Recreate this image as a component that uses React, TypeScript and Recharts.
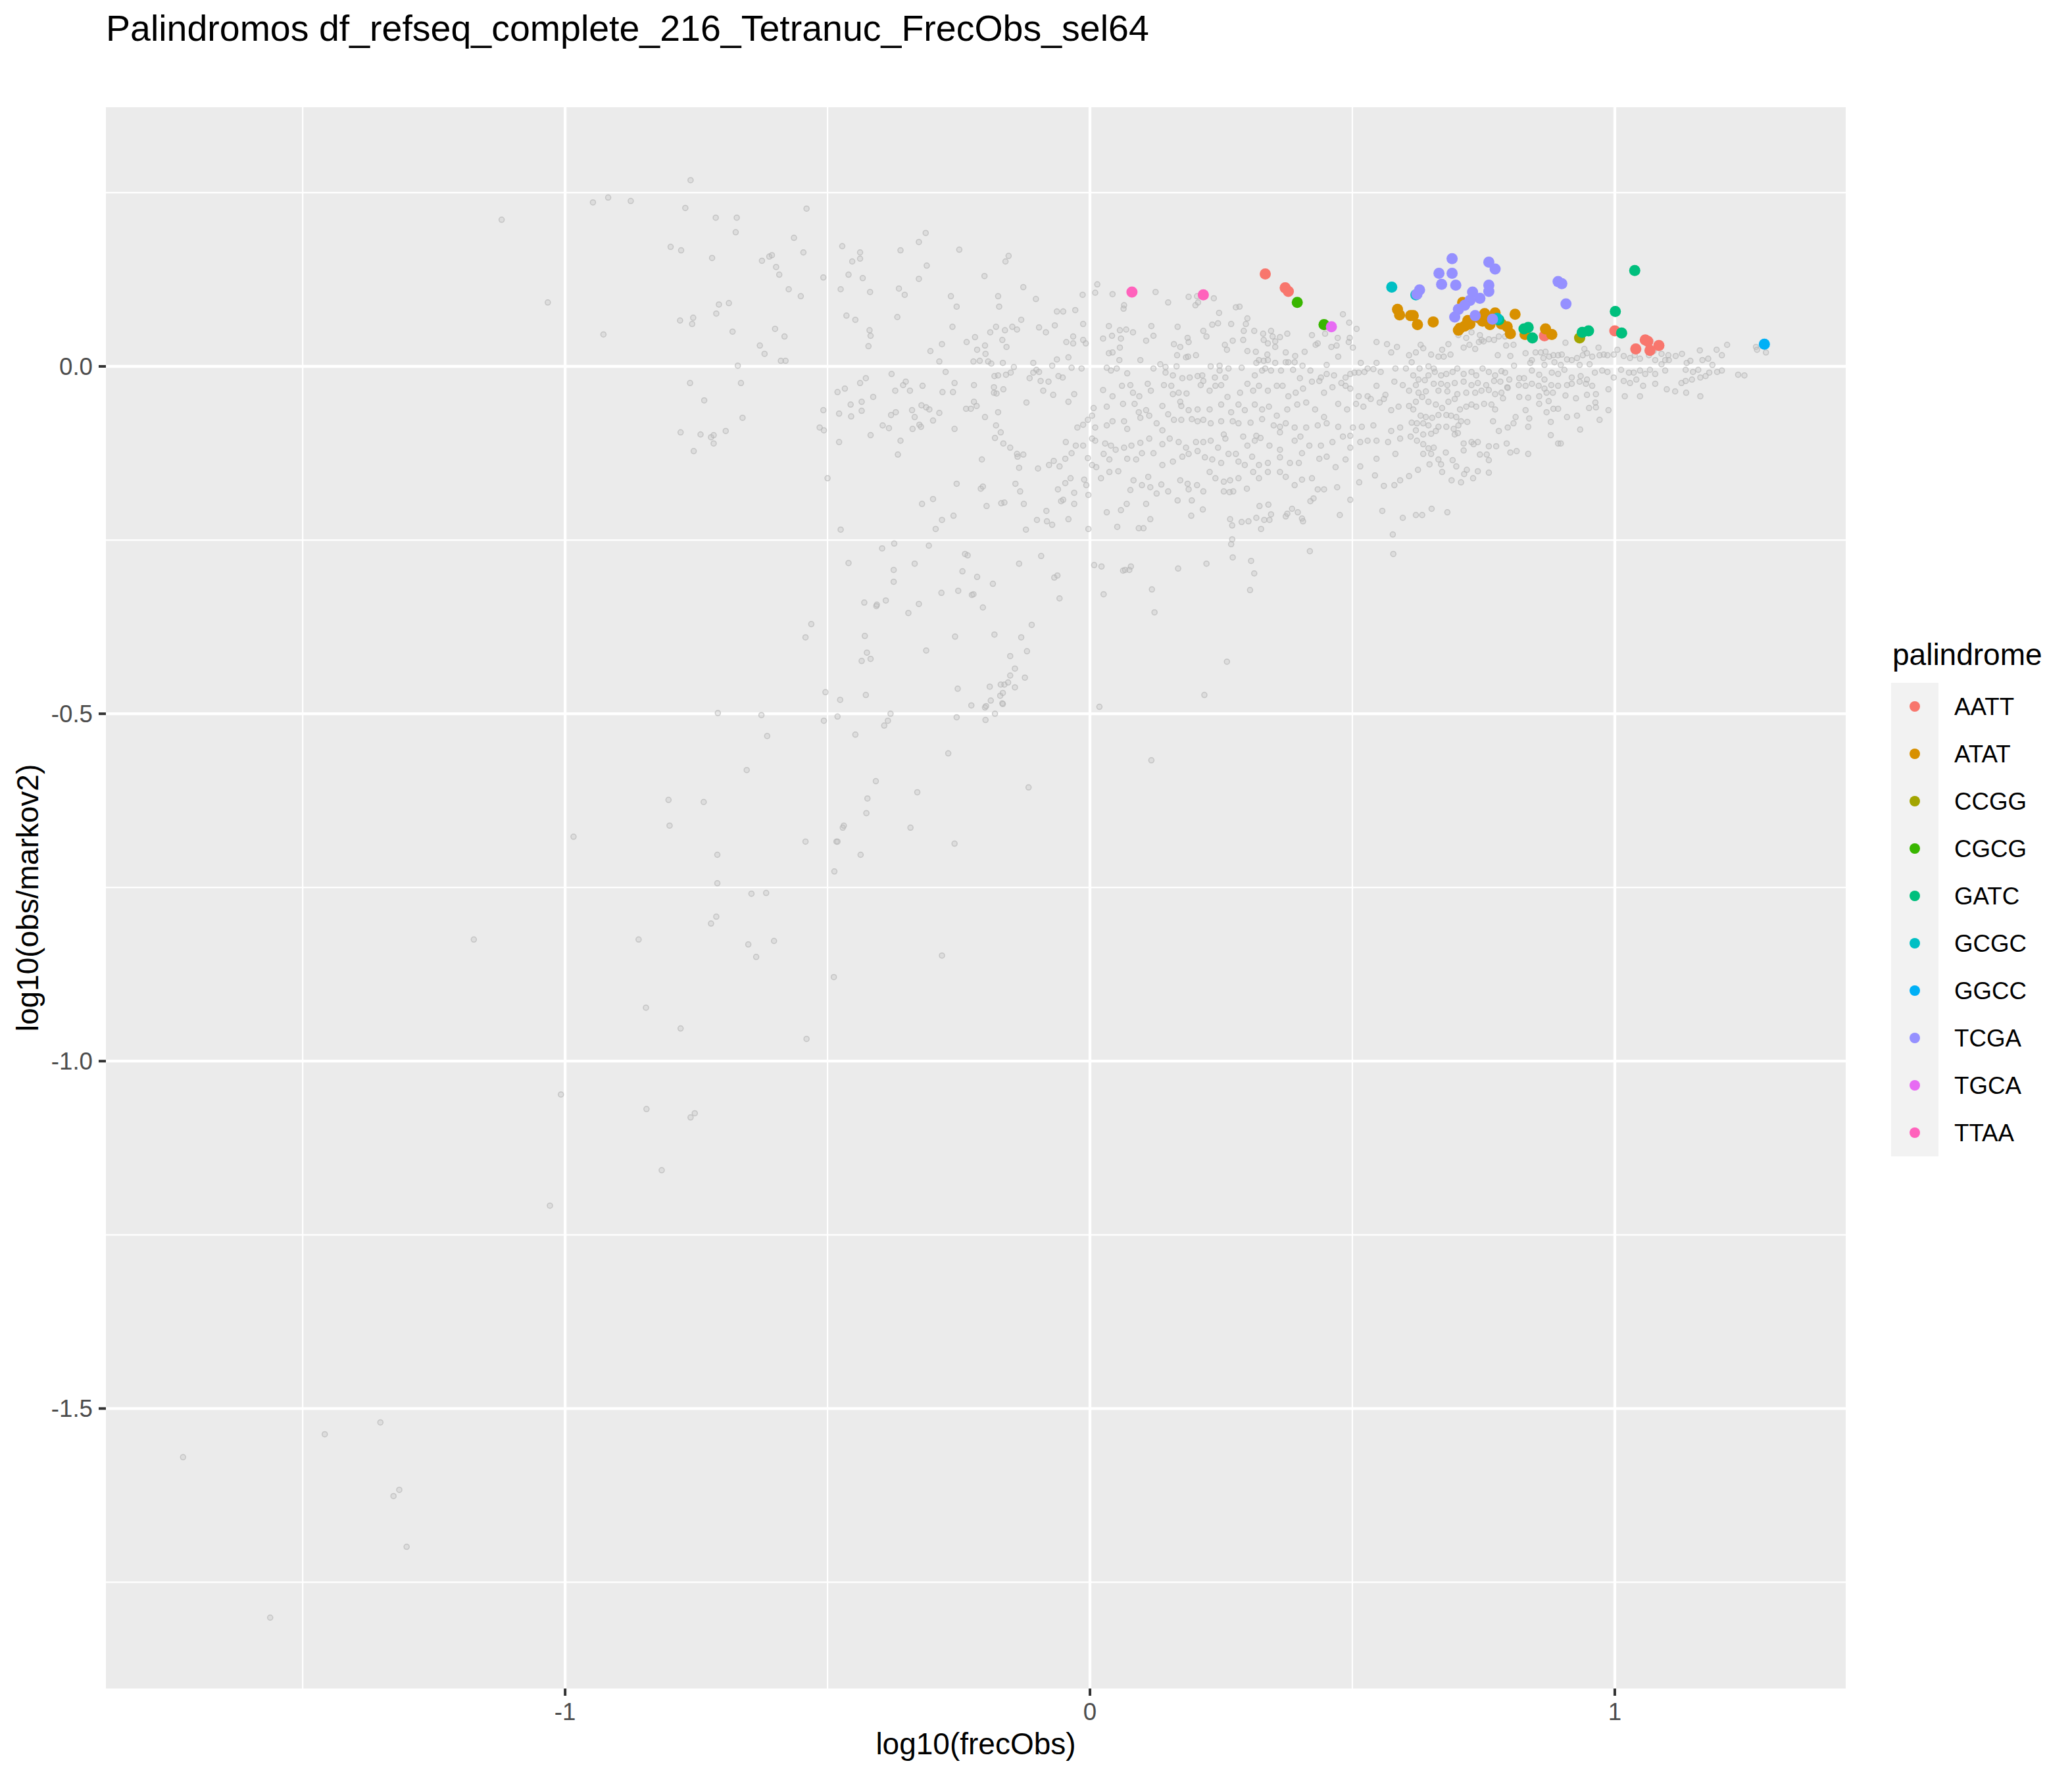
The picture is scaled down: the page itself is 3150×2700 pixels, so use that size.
import { ScatterChart, Scatter, XAxis, YAxis, CartesianGrid, Label } from 'recharts';

const FONT = '"Liberation Sans", Arial, sans-serif';

const X_TICKS = [-1, 0, 1];
const Y_TICKS = [-1.5, -1, -0.5, 0];
const X_MINOR = [-1.5, -0.5, 0.5];
const Y_MINOR = [0.25, -0.25, -0.75, -1.25, -1.75];
const X_DOMAIN = [-1.875, 1.44];
const Y_DOMAIN = [-1.903, 0.373];

// gray background points: all tetranucleotides (log10 frecObs, log10 obs/markov2)
const GRAY_CORE: [number, number][] = [
  [-0.103, 0.097], [-0.063, 0.079], [-0.051, 0.079], [-0.028, 0.081], [-0.013, 0.061], [-0.097, 0.056], [-0.084, 0.049],
  [-0.067, 0.059], [-0.045, 0.035], [-0.032, 0.043], [-0.032, 0.033], [-0.013, 0.038], [-0.008, 0.033], [-0.063, 0.01],
  [-0.041, 0.013], [-0.108, 0.005], [-0.072, 0.001], [0.065, 0.088], [0.064, 0.083], [0.036, 0.058], [0.057, 0.052],
  [0.069, 0.053], [0.082, 0.049], [0.042, 0.044], [0.025, 0.04], [0.059, 0.04], [0.107, 0.037], [0.121, 0.044],
  [0.117, 0.058], [0.149, 0.092], [0.167, 0.057], [0.188, 0.1], [0.201, 0.088], [0.206, 0.092], [0.216, 0.051],
  [0.222, 0.043], [0.233, 0.06], [0.244, 0.062], [0.246, 0.077], [0.269, 0.061], [0.278, 0.085], [0.285, 0.086],
  [0.3, 0.069], [0.297, 0.061], [0.293, 0.051], [0.313, 0.051], [0.33, 0.047], [0.345, 0.051], [0.331, 0.038],
  [0.348, 0.043], [0.362, 0.042], [0.353, 0.036], [0.376, 0.047], [0.16, 0.032], [0.172, 0.028], [0.186, 0.041],
  [0.188, 0.035], [0.204, 0.101], [0.236, 0.098], [0.257, 0.031], [0.261, 0.024], [0.272, 0.037], [0.292, 0.038],
  [0.339, 0.033], [0.353, 0.028], [0.3, 0.022], [0.316, 0.021], [0.338, 0.017], [0.373, 0.02], [0.391, 0.015],
  [0.409, 0.021], [0.43, 0.031], [0.434, 0.033], [0.423, 0.045], [0.448, 0.047], [0.472, 0.041], [0.47, 0.03],
  [0.495, 0.041], [0.493, 0.035], [0.501, 0.027], [0.508, 0.054], [0.482, 0.075], [0.494, 0.063], [0.46, 0.028],
  [0.473, 0.014], [0.057, 0.027], [0.036, 0.019], [0.043, 0.02], [0.056, 0.009], [0.096, 0.009], [0.134, 0.003],
  [0.166, 0.016], [0.183, 0.013], [0.187, 0.014], [0.202, 0.016], [0.23, 0.0], [0.247, 0.001], [0.317, 0.005],
  [0.322, 0.009], [0.331, 0.008], [0.339, 0.009], [0.353, 0.005], [0.373, 0.006], [0.378, 0.006], [0.39, 0.006],
  [0.405, 0.001], [0.451, 0.002], [0.516, 0.005], [0.529, -0.003], [0.546, 0.005], [0.566, 0.032], [0.546, 0.035],
  [0.574, 0.02], [0.585, 0.028], [0.608, 0.016], [0.613, 0.006],
  [-0.102, -0.005], [-0.097, -0.008], [-0.108, -0.009], [-0.06, -0.014], [-0.052, -0.016], [-0.035, -0.002],
  [-0.016, -0.003], [0.032, -0.002], [0.04, -0.006], [0.051, -0.003], [0.071, -0.01], [0.121, -0.003], [0.144, -0.001],
  [0.144, -0.009], [0.165, 0.0], [0.158, -0.013], [0.176, -0.017], [0.19, -0.016], [0.205, -0.014], [0.214, -0.013],
  [0.216, -0.021], [0.238, -0.016], [0.247, -0.006], [0.258, -0.016], [0.264, -0.003], [0.289, -0.002], [0.314, -0.013],
  [0.328, -0.006], [0.334, -0.003], [0.345, -0.006], [0.364, -0.006], [0.387, -0.005], [0.4, -0.017], [0.42, -0.006],
  [0.44, -0.016], [0.451, -0.011], [0.465, -0.013], [0.487, -0.016], [0.496, -0.011], [0.504, -0.009], [0.512, -0.009],
  [0.523, -0.008], [0.54, -0.004], [0.554, -0.008], [0.582, -0.003], [0.602, -0.003],
  [-0.115, -0.017], [-0.094, -0.021], [-0.079, -0.022], [-0.089, -0.035], [-0.07, -0.041], [-0.03, -0.04],
  [-0.041, -0.051], [0.025, -0.034], [0.043, -0.043], [0.061, -0.028], [0.077, -0.027], [0.082, -0.038], [0.094, -0.043],
  [0.11, -0.025], [0.116, -0.035], [0.141, -0.027], [0.155, -0.028], [0.158, -0.04], [0.169, -0.038], [0.184, -0.039],
  [0.211, -0.027], [0.228, -0.035], [0.239, -0.028], [0.25, -0.027], [0.262, -0.044], [0.286, -0.038], [0.3, -0.025],
  [0.311, -0.035], [0.322, -0.028], [0.339, -0.035], [0.356, -0.028], [0.367, -0.028], [0.378, -0.043], [0.392, -0.038],
  [0.406, -0.032], [0.423, -0.022], [0.437, -0.021], [0.446, -0.038], [0.462, -0.03], [0.479, -0.024], [0.487, -0.028],
  [0.496, -0.032], [0.512, -0.043], [0.529, -0.043], [0.546, -0.028], [0.563, -0.041], [0.58, -0.022], [0.596, -0.027],
  [0.608, -0.035],
  [-0.121, -0.052], [0.007, -0.06], [0.032, -0.058], [0.063, -0.054], [0.085, -0.054], [0.093, -0.066], [0.107, -0.063],
  [0.138, -0.057], [0.149, -0.069], [0.172, -0.051], [0.174, -0.057], [0.188, -0.063], [0.205, -0.062], [0.228, -0.062],
  [0.25, -0.055], [0.269, -0.066], [0.283, -0.055], [0.295, -0.063], [0.314, -0.055], [0.328, -0.062], [0.341, -0.058],
  [0.356, -0.071], [0.376, -0.062], [0.395, -0.055], [0.412, -0.052], [0.429, -0.062], [0.446, -0.073], [0.473, -0.054],
  [0.49, -0.062], [0.507, -0.054], [0.521, -0.058], [0.535, -0.047], [0.552, -0.052], [0.56, -0.047], [0.574, -0.063],
  [0.588, -0.058], [0.608, -0.057],
  [-0.024, -0.088], [-0.013, -0.084], [-0.004, -0.077], [0.004, -0.071], [0.01, -0.088], [0.032, -0.085], [0.043, -0.079],
  [0.065, -0.079], [0.071, -0.09], [0.096, -0.074], [0.113, -0.071], [0.127, -0.082], [0.138, -0.092], [0.16, -0.077],
  [0.174, -0.077], [0.194, -0.076], [0.205, -0.079], [0.216, -0.077], [0.23, -0.082], [0.25, -0.079], [0.272, -0.079],
  [0.283, -0.082], [0.306, -0.081], [0.328, -0.076], [0.35, -0.085], [0.362, -0.087], [0.373, -0.082], [0.39, -0.088],
  [0.412, -0.088], [0.434, -0.085], [0.451, -0.082], [0.473, -0.087], [0.501, -0.088], [0.518, -0.087], [0.54, -0.085],
  [0.574, -0.093], [0.591, -0.088], [0.613, -0.081], [0.255, -0.098], [0.317, -0.1], [0.362, -0.095], [0.496, -0.1],
  [-0.046, -0.109], [-0.027, -0.114], [-0.013, -0.114], [0.004, -0.104], [0.01, -0.107], [0.029, -0.111], [0.04, -0.114],
  [0.049, -0.12], [0.065, -0.117], [0.079, -0.114], [0.096, -0.11], [0.113, -0.104], [0.138, -0.112], [0.152, -0.104],
  [0.169, -0.109], [0.183, -0.117], [0.202, -0.109], [0.216, -0.109], [0.23, -0.107], [0.244, -0.117], [0.258, -0.104],
  [0.278, -0.126], [0.292, -0.101], [0.3, -0.114], [0.314, -0.107], [0.325, -0.103], [0.342, -0.114], [0.362, -0.12],
  [0.39, -0.107], [0.401, -0.101], [0.418, -0.114], [0.44, -0.114], [0.462, -0.109], [0.482, -0.101], [0.496, -0.117],
  [0.515, -0.109], [0.529, -0.107], [0.546, -0.107], [0.568, -0.109], [0.591, -0.104], [0.611, -0.101],
  [-0.099, -0.147], [-0.078, -0.142], [-0.069, -0.136], [-0.058, -0.144], [-0.047, -0.133], [-0.035, -0.125],
  [-0.004, -0.132], [0.004, -0.142], [0.012, -0.145], [0.026, -0.126], [0.037, -0.134], [0.071, -0.133], [0.088, -0.134],
  [0.099, -0.125], [0.121, -0.125], [0.138, -0.142], [0.158, -0.137], [0.176, -0.13], [0.188, -0.126], [0.205, -0.122],
  [0.219, -0.131], [0.233, -0.134], [0.25, -0.139], [0.264, -0.126], [0.283, -0.137], [0.295, -0.142], [0.309, -0.13],
  [0.322, -0.142], [0.339, -0.139], [0.362, -0.131], [0.381, -0.139], [0.398, -0.139], [0.404, -0.125], [0.437, -0.133],
  [0.451, -0.13], [0.468, -0.145], [0.487, -0.134], [0.515, -0.144], [0.546, -0.133], [0.582, -0.126],
  [-0.061, -0.177], [-0.047, -0.168], [-0.037, -0.161], [-0.03, -0.182], [-0.011, -0.163], [-0.007, -0.171],
  [-0.003, -0.185], [0.021, -0.161], [0.037, -0.152], [0.054, -0.151], [0.077, -0.178], [0.083, -0.164], [0.099, -0.171],
  [0.111, -0.159], [0.115, -0.174], [0.127, -0.183], [0.136, -0.17], [0.149, -0.18], [0.172, -0.164], [0.186, -0.169],
  [0.188, -0.177], [0.204, -0.171], [0.216, -0.18], [0.228, -0.152], [0.239, -0.161], [0.255, -0.166], [0.267, -0.164],
  [0.283, -0.161], [0.299, -0.176], [0.311, -0.152], [0.322, -0.161], [0.339, -0.152], [0.362, -0.152], [0.373, -0.159],
  [0.39, -0.171], [0.404, -0.163], [0.423, -0.161], [0.434, -0.177], [0.446, -0.177], [0.471, -0.174], [0.513, -0.167],
  [0.543, -0.157], [0.56, -0.172], [0.58, -0.171], [0.591, -0.164], [0.608, -0.158],
  [-0.101, -0.221], [-0.083, -0.208], [-0.082, -0.223], [-0.072, -0.228], [-0.055, -0.194], [-0.051, -0.192],
  [-0.041, -0.22], [-0.03, -0.198], [-0.003, -0.234], [0.032, -0.21], [0.052, -0.231], [0.059, -0.207], [0.07, -0.198],
  [0.093, -0.233], [0.102, -0.233], [0.107, -0.198], [0.115, -0.22], [0.167, -0.193], [0.194, -0.193], [0.193, -0.215],
  [0.215, -0.206], [0.255, -0.18], [0.266, -0.181], [0.273, -0.18], [0.267, -0.22], [0.271, -0.229], [0.289, -0.224],
  [0.302, -0.223], [0.317, -0.218], [0.326, -0.234], [0.332, -0.221], [0.342, -0.221], [0.34, -0.199], [0.323, -0.201],
  [0.345, -0.213], [0.373, -0.216], [0.376, -0.212], [0.385, -0.205], [0.396, -0.21], [0.404, -0.219], [0.406, -0.223],
  [0.42, -0.194], [0.426, -0.19], [0.476, -0.214], [0.496, -0.192], [0.557, -0.208], [0.577, -0.242], [0.596, -0.218],
  [-0.093, -0.273], [0.271, -0.249], [0.269, -0.256], [0.272, -0.275], [0.419, -0.266], [0.578, -0.27],
];

const GRAY_RIGHT: [number, number][] = [
  [0.702, 0.045], [0.717, 0.041], [0.727, 0.049], [0.743, 0.045], [0.746, 0.038], [0.76, 0.039], [0.77, 0.038],
  [0.779, 0.043], [0.791, 0.043], [0.63, 0.031], [0.635, 0.026], [0.621, 0.02], [0.65, 0.017], [0.671, 0.024],
  [0.683, 0.032], [0.687, 0.017], [0.664, 0.014], [0.674, 0.014], [0.712, 0.027], [0.723, 0.031], [0.734, 0.025],
  [0.741, 0.035], [0.75, 0.036], [0.777, 0.016], [0.793, 0.03], [0.807, 0.031], [0.801, 0.015], [0.83, 0.019],
  [0.842, 0.009], [0.849, 0.02], [0.859, 0.02], [0.864, 0.012], [0.868, 0.021], [0.875, 0.014], [0.883, 0.016],
  [0.892, 0.016], [0.899, 0.017], [0.906, 0.034], [0.909, 0.01], [0.918, 0.009], [0.928, 0.012], [0.942, 0.025],
  [0.939, 0.016], [0.947, 0.019], [0.957, 0.014], [0.969, 0.027], [0.971, 0.016], [0.979, 0.017], [0.986, 0.016],
  [0.998, 0.017], [1.005, 0.024], [1.017, 0.015], [1.029, 0.012], [1.038, 0.016], [1.048, 0.011], [1.065, 0.016],
  [1.077, 0.009], [1.089, 0.018], [1.089, 0.003], [1.102, 0.016], [1.116, 0.015], [1.128, 0.018], [1.103, 0.009],
  [1.096, 0.009], [1.137, 0.005], [1.144, 0.008], [1.167, 0.009], [1.178, 0.011], [1.186, 0.002], [1.162, 0.023],
  [1.194, 0.024], [1.204, 0.016], [1.214, 0.031], [1.269, 0.028], [1.271, 0.024], [1.288, 0.02], [1.074, 0.022],
  [0.952, 0.003], [0.933, 0.002], [0.897, 0.002], [0.866, 0.002], [0.839, 0.005], [0.885, 0.006], [0.628, -0.003],
  [0.645, 0.0], [0.655, -0.003],
  [0.616, -0.013], [0.626, -0.019], [0.645, -0.013], [0.657, -0.008], [0.669, -0.013], [0.679, -0.011], [0.691, -0.008],
  [0.7, -0.003], [0.712, -0.011], [0.727, -0.008], [0.736, -0.013], [0.748, -0.003], [0.76, -0.008], [0.772, -0.013],
  [0.784, -0.007], [0.791, -0.009], [0.799, -0.019], [0.808, 0.001], [0.818, -0.017], [0.827, -0.017], [0.842, -0.006],
  [0.856, -0.012], [0.866, -0.019], [0.88, -0.009], [0.892, -0.011], [0.904, -0.005], [0.918, -0.016], [0.935, -0.014],
  [0.947, -0.019], [0.962, -0.009], [0.976, -0.006], [0.986, -0.008], [0.998, -0.016], [1.012, -0.005], [1.027, -0.009],
  [1.036, -0.009], [1.048, -0.006], [1.058, -0.011], [1.067, -0.005], [1.077, -0.011], [1.096, -0.006], [1.135, -0.005],
  [1.149, -0.008], [1.159, -0.005], [1.18, -0.009], [1.195, -0.008], [1.204, -0.006], [1.235, -0.012], [1.247, -0.013],
  [0.621, -0.027], [0.638, -0.02], [0.655, -0.025], [0.669, -0.025], [0.681, -0.027], [0.695, -0.024], [0.712, -0.022],
  [0.727, -0.027], [0.739, -0.024], [0.755, -0.027], [0.77, -0.021], [0.782, -0.022], [0.795, -0.03], [0.817, -0.027],
  [0.83, -0.028], [0.842, -0.025], [0.855, -0.028], [0.866, -0.032], [0.879, -0.027], [0.892, -0.028], [0.909, -0.027],
  [0.918, -0.025], [0.933, -0.022], [0.945, -0.025], [0.957, -0.028], [1.017, -0.021], [1.029, -0.024], [1.041, -0.019],
  [1.054, -0.028], [1.077, -0.025], [1.127, -0.024], [1.135, -0.021], [1.147, -0.019], [1.163, -0.016], [1.173, -0.014],
  [0.626, -0.038], [0.64, -0.036], [0.664, -0.035], [0.681, -0.036], [0.7, -0.04], [0.717, -0.038], [0.734, -0.038],
  [0.746, -0.035], [0.76, -0.034], [0.772, -0.04], [0.784, -0.038], [0.796, -0.031], [0.818, -0.044], [0.835, -0.045],
  [0.856, -0.043], [0.87, -0.038], [0.882, -0.038], [0.906, -0.042], [0.926, -0.046], [0.947, -0.041], [0.964, -0.04],
  [0.988, -0.033], [1.019, -0.043], [1.048, -0.043], [1.099, -0.033], [1.115, -0.036], [1.136, -0.038], [1.163, -0.043],
  [0.621, -0.051], [0.633, -0.044], [0.645, -0.051], [0.659, -0.055], [0.671, -0.06], [0.683, -0.051], [0.695, -0.047],
  [0.705, -0.062], [0.717, -0.058], [0.727, -0.055], [0.736, -0.058], [0.751, -0.054], [0.765, -0.055], [0.772, -0.062],
  [0.787, -0.046], [0.83, -0.063], [0.856, -0.054], [0.874, -0.05], [0.883, -0.061], [0.892, -0.061], [0.87, -0.066],
  [0.811, -0.073], [0.837, -0.075], [0.909, -0.073], [0.928, -0.071], [0.951, -0.06], [0.964, -0.059], [0.963, -0.052],
  [0.988, -0.063], [0.971, -0.077], [0.616, -0.062], [0.63, -0.071], [0.64, -0.073], [0.652, -0.074], [0.664, -0.07],
  [0.679, -0.07], [0.688, -0.071], [0.698, -0.073], [0.707, -0.079], [0.719, -0.08], [0.623, -0.082], [0.635, -0.082],
  [0.645, -0.085], [0.664, -0.087], [0.679, -0.087], [0.693, -0.09], [0.702, -0.085], [0.621, -0.092], [0.635, -0.098],
  [0.65, -0.097], [0.659, -0.093], [0.695, -0.098], [0.701, -0.096], [0.768, -0.079], [0.779, -0.093], [0.796, -0.088],
  [0.807, -0.082], [0.835, -0.087], [0.878, -0.08], [0.878, -0.099], [0.934, -0.091],
  [0.623, -0.107], [0.635, -0.112], [0.645, -0.118], [0.655, -0.117], [0.712, -0.111], [0.727, -0.109], [0.731, -0.112],
  [0.739, -0.109], [0.76, -0.115], [0.774, -0.115], [0.794, -0.111], [0.801, -0.124], [0.813, -0.122], [0.835, -0.126],
  [0.892, -0.111], [0.897, -0.111], [0.635, -0.126], [0.65, -0.126], [0.664, -0.134], [0.678, -0.124], [0.669, -0.141],
  [0.691, -0.135], [0.712, -0.121], [0.743, -0.127], [0.756, -0.127], [0.76, -0.135], [0.647, -0.141], [0.625, -0.149],
  [0.671, -0.152], [0.698, -0.144], [0.718, -0.149], [0.739, -0.151], [0.76, -0.153], [0.713, -0.155], [0.73, -0.161],
  [0.689, -0.164], [0.707, -0.167], [0.651, -0.205], [0.681, -0.21], [0.621, -0.214], [0.633, -0.214],
];

const GRAY_LEFT: [number, number][] = [
  [-0.761, 0.268], [-0.947, 0.236], [-0.918, 0.243], [-0.875, 0.238], [-0.771, 0.228], [-0.713, 0.214], [-0.673, 0.214],
  [-0.675, 0.193], [-0.54, 0.227], [-0.564, 0.185], [-0.799, 0.172], [-0.779, 0.167], [-0.72, 0.156], [-1.121, 0.211],
  [-0.625, 0.152], [-0.611, 0.158], [-0.606, 0.16], [-0.598, 0.143], [-0.592, 0.132], [-0.546, 0.164], [-0.574, 0.111],
  [-0.551, 0.101], [-0.508, 0.128], [-1.033, 0.092], [-0.707, 0.089], [-0.688, 0.091], [-0.712, 0.076], [-0.781, 0.066],
  [-0.756, 0.07], [-0.758, 0.061], [-0.681, 0.05], [-0.927, 0.046], [-0.6, 0.054], [-0.582, 0.043], [-0.629, 0.03],
  [-0.62, 0.018], [-0.589, 0.008], [-0.58, 0.008], [-0.671, 0.001],
  [-0.472, 0.173], [-0.438, 0.164], [-0.438, 0.155], [-0.453, 0.151], [-0.46, 0.132], [-0.433, 0.127], [-0.475, 0.111],
  [-0.419, 0.107], [-0.361, 0.167], [-0.326, 0.179], [-0.313, 0.192], [-0.311, 0.145], [-0.326, 0.126], [-0.364, 0.112],
  [-0.353, 0.103], [-0.249, 0.168], [-0.265, 0.101], [-0.254, 0.086], [-0.201, 0.13], [-0.175, 0.101], [-0.173, 0.086],
  [-0.155, 0.159], [-0.161, 0.151], [-0.127, 0.114], [-0.464, 0.073], [-0.447, 0.067], [-0.42, 0.052], [-0.418, 0.044],
  [-0.422, 0.029], [-0.367, 0.071], [-0.262, 0.057], [-0.282, 0.032], [-0.304, 0.022], [-0.287, 0.007], [-0.235, 0.035],
  [-0.219, 0.042], [-0.215, 0.024], [-0.2, 0.03], [-0.199, 0.018], [-0.19, 0.049], [-0.179, 0.057], [-0.162, 0.052],
  [-0.167, 0.038], [-0.159, 0.028], [-0.148, 0.057], [-0.139, 0.053], [-0.131, 0.067], [-0.222, 0.007], [-0.21, 0.008],
  [-0.194, 0.007], [-0.188, 0.004], [-0.166, 0.005], [-0.145, -0.001],
  [-0.014, 0.103], [0.014, 0.118], [0.01, 0.106], [0.043, 0.104], [0.125, 0.107],
  [-0.762, -0.024], [-0.665, -0.024], [-0.735, -0.049], [-0.662, -0.074], [-0.78, -0.095], [-0.742, -0.098],
  [-0.722, -0.102], [-0.717, -0.099], [-0.717, -0.111], [-0.694, -0.093], [-0.755, -0.122], [-0.508, -0.063],
  [-0.515, -0.088], [-0.507, -0.092], [-0.478, -0.068], [-0.478, -0.109], [-0.5, -0.161], [-0.481, -0.037],
  [-0.467, -0.032], [-0.438, -0.024], [-0.427, -0.017], [-0.413, -0.044], [-0.435, -0.051], [-0.456, -0.055],
  [-0.435, -0.064], [-0.455, -0.072], [-0.378, -0.011], [-0.371, -0.035], [-0.356, -0.027], [-0.351, -0.022],
  [-0.343, -0.035], [-0.319, -0.028], [-0.321, -0.056], [-0.312, -0.059], [-0.306, -0.062], [-0.379, -0.07],
  [-0.37, -0.066], [-0.339, -0.063], [-0.334, -0.073], [-0.383, -0.089], [-0.395, -0.085], [-0.325, -0.084],
  [-0.322, -0.087], [-0.338, -0.09], [-0.299, -0.078], [-0.287, -0.067], [-0.418, -0.099], [-0.361, -0.107],
  [-0.366, -0.127], [-0.281, -0.037], [-0.261, -0.037], [-0.258, -0.024], [-0.275, -0.008], [-0.221, -0.027],
  [-0.236, -0.061], [-0.227, -0.061], [-0.221, -0.051], [-0.216, -0.057], [-0.2, -0.073], [-0.183, -0.03],
  [-0.183, -0.038], [-0.178, -0.039], [-0.165, -0.033], [-0.182, -0.014], [-0.175, -0.013], [-0.16, -0.012],
  [-0.151, -0.009], [-0.258, -0.09], [-0.179, -0.085], [-0.175, -0.066], [-0.17, -0.095], [-0.181, -0.103],
  [-0.165, -0.111], [-0.152, -0.117], [-0.206, -0.134], [-0.139, -0.126], [-0.138, -0.13], [-0.127, -0.127],
  [-0.135, -0.146], [-0.254, -0.169], [-0.208, -0.176], [-0.204, -0.173], [-0.142, -0.169], [-0.133, -0.18],
  [-0.32, -0.198], [-0.299, -0.191], [-0.282, -0.221], [-0.26, -0.215], [-0.294, -0.234], [-0.197, -0.201],
  [-0.169, -0.197], [-0.163, -0.196], [-0.126, -0.198], [-0.122, -0.235], [-0.475, -0.235],
];

const GRAY_LOW: [number, number][] = [
  [-0.396, -0.262], [-0.373, -0.255], [-0.307, -0.258], [-0.46, -0.283], [-0.334, -0.284], [-0.374, -0.293],
  [-0.374, -0.31], [-0.238, -0.27], [-0.233, -0.272], [-0.243, -0.295], [-0.215, -0.303], [-0.185, -0.313],
  [-0.135, -0.284], [-0.283, -0.326], [-0.251, -0.323], [-0.225, -0.329], [-0.222, -0.328], [-0.43, -0.34],
  [-0.407, -0.345], [-0.406, -0.343], [-0.389, -0.337], [-0.326, -0.342], [-0.346, -0.355], [-0.204, -0.347],
  [-0.531, -0.371], [-0.542, -0.39], [-0.429, -0.388], [-0.257, -0.389], [-0.182, -0.386], [-0.131, -0.39],
  [-0.312, -0.409], [-0.425, -0.412], [-0.435, -0.424], [-0.418, -0.421], [-0.152, -0.417], [-0.143, -0.435],
  [-0.152, -0.445], [-0.124, -0.448], [-0.252, -0.464], [-0.191, -0.461], [-0.17, -0.458], [-0.163, -0.458],
  [-0.156, -0.455], [-0.143, -0.462], [-0.504, -0.469], [-0.476, -0.48], [-0.427, -0.473], [-0.171, -0.474],
  [-0.166, -0.47], [-0.189, -0.481], [-0.167, -0.485], [-0.226, -0.488], [-0.2, -0.491], [-0.198, -0.489],
  [-0.709, -0.499], [-0.626, -0.502], [-0.615, -0.532], [-0.507, -0.51], [-0.481, -0.504], [-0.447, -0.53],
  [-0.392, -0.517], [-0.385, -0.51], [-0.38, -0.5], [-0.254, -0.505], [-0.199, -0.509], [-0.181, -0.5], [-0.166, -0.486],
  [-0.27, -0.557], [-0.654, -0.581], [-0.408, -0.597], [-0.329, -0.613], [-0.424, -0.622], [-0.426, -0.643],
  [-0.803, -0.624], [-0.736, -0.627], [-0.801, -0.661], [-0.471, -0.664], [-0.469, -0.661], [-0.342, -0.664],
  [-0.483, -0.684], [-0.481, -0.684], [-0.542, -0.684], [-0.258, -0.687], [-0.984, -0.677], [-0.71, -0.703],
  [-0.437, -0.703], [-0.487, -0.727], [-0.71, -0.744], [-0.645, -0.759], [-0.617, -0.758], [-0.712, -0.792],
  [-0.722, -0.802], [-1.174, -0.825], [-0.86, -0.825], [-0.651, -0.832], [-0.602, -0.827], [-0.636, -0.85],
  [-0.282, -0.848], [-0.488, -0.879], [-0.846, -0.923], [-0.78, -0.953], [-0.54, -0.968], [-1.008, -1.048],
  [-0.845, -1.069], [-0.753, -1.075], [-0.761, -1.081], [-0.816, -1.157], [-1.029, -1.208], [-1.352, -1.52],
  [-1.458, -1.537], [-1.728, -1.57], [-1.316, -1.617], [-1.327, -1.626], [-1.302, -1.699], [-1.562, -1.801],
  [-0.068, -0.304], [-0.062, -0.301], [-0.058, -0.334], [-0.111, -0.372], [-0.12, -0.41], [-0.117, -0.606],
  [0.008, -0.286], [0.022, -0.288], [0.063, -0.294], [0.067, -0.293], [0.075, -0.293], [0.078, -0.288], [0.168, -0.291],
  [0.222, -0.284], [0.307, -0.28], [0.313, -0.298], [0.026, -0.328], [0.118, -0.321], [0.305, -0.322], [0.123, -0.354],
  [0.261, -0.425], [0.218, -0.473], [0.018, -0.49], [0.117, -0.567],
];

// palindromic tetranucleotides, one list per palindrome
const AATT: [number, number][] = [
  [0.334, 0.133], [0.372, 0.113], [0.378, 0.108], [1.0, 0.051], [0.866, 0.044], [1.04, 0.025], [1.063, 0.036],
  [1.084, 0.03], [1.067, 0.023], [1.058, 0.038],
];
const ATAT: [number, number][] = [
  [0.586, 0.082], [0.59, 0.074], [0.611, 0.073], [0.624, 0.06], [0.654, 0.064], [0.702, 0.052], [0.714, 0.058],
  [0.724, 0.061], [0.752, 0.076], [0.772, 0.077], [0.762, 0.06], [0.784, 0.061], [0.795, 0.057], [0.801, 0.047],
  [0.81, 0.075], [0.829, 0.046], [0.868, 0.054], [0.88, 0.046], [0.71, 0.092], [0.748, 0.065], [0.72, 0.066],
  [0.74, 0.07], [0.705, 0.055], [0.616, 0.073],
];
const CCGG: [number, number][] = [[0.933, 0.041]];
const CGCG: [number, number][] = [[0.395, 0.092], [0.446, 0.06]];
const GATC: [number, number][] = [
  [1.038, 0.138], [1.001, 0.079], [0.779, 0.067], [0.827, 0.054], [0.843, 0.041], [0.938, 0.049], [0.95, 0.051],
  [1.013, 0.048], [0.835, 0.056],
];
const GCGC: [number, number][] = [[0.575, 0.114], [0.621, 0.103], [0.776, 0.069]];
const GGCC: [number, number][] = [[1.285, 0.032]];
const TCGA: [number, number][] = [
  [0.69, 0.155], [0.665, 0.134], [0.69, 0.134], [0.76, 0.15], [0.772, 0.14], [0.67, 0.118], [0.697, 0.117],
  [0.628, 0.11], [0.623, 0.104], [0.76, 0.117], [0.76, 0.108], [0.729, 0.107], [0.743, 0.098], [0.724, 0.095],
  [0.714, 0.088], [0.702, 0.082], [0.695, 0.071], [0.734, 0.073], [0.892, 0.122], [0.899, 0.119], [0.907, 0.09],
  [0.767, 0.068],
];
const TGCA: [number, number][] = [[0.46, 0.057]];
const TTAA: [number, number][] = [[0.08, 0.107], [0.216, 0.103]];

const PALINDROMES = ['AATT', 'ATAT', 'CCGG', 'CGCG', 'GATC', 'GCGC', 'GGCC', 'TCGA', 'TGCA', 'TTAA'];
const COLORS = ['#F8766D', '#D89000', '#A3A500', '#39B600', '#00BF7D', '#00BFC4', '#00B0F6', '#9590FF', '#E76BF3', '#FF62BC'];
const SERIES = [AATT, ATAT, CCGG, CGCG, GATC, GCGC, GGCC, TCGA, TGCA, TTAA];

const toPoints = (rows: [number, number][]) => rows.map(([x, y]) => ({ x, y }));
const grayData = toPoints([...GRAY_CORE, ...GRAY_RIGHT, ...GRAY_LEFT, ...GRAY_LOW]);

const GrayDot = (props: any) => (
  <circle cx={props.cx} cy={props.cy} r={4} fill="#BEBEBE" fillOpacity={0.3} stroke="#B4B4B4" strokeOpacity={0.65} strokeWidth={1.5} />
);

const colorDot = (fill: string) => (props: any) => <circle cx={props.cx} cy={props.cy} r={8.5} fill={fill} />;

const XTitle = (props: any) => {
  const vb = props.viewBox;
  return (
    <text x={vb.x + vb.width / 2} y={2667} textAnchor="middle" fontSize={46} fontFamily={FONT} fill="#000">
      log10(frecObs)
    </text>
  );
};

const YTitle = (props: any) => {
  const vb = props.viewBox;
  const cy = vb.y + vb.height / 2;
  return (
    <text x={58} y={cy} transform={`rotate(-90 58 ${cy})`} textAnchor="middle" fontSize={46} fontFamily={FONT} fill="#000">
      log10(obs/markov2)
    </text>
  );
};

const Legend = () => (
  <svg width={260} height={800} style={{ position: 'absolute', left: 2860, top: 960 }}>
    <text x={17} y={51} fontSize={46} fontFamily={FONT} fill="#000">palindrome</text>
    <rect x={15} y={78} width={72} height={72 * PALINDROMES.length} fill="#F2F2F2" />
    {PALINDROMES.map((name, i) => (
      <g key={name}>
        <circle cx={51} cy={114 + 72 * i} r={8} fill={COLORS[i]} />
        <text x={111} y={114 + 72 * i} dy="0.355em" fontSize={36.7} fontFamily={FONT} fill="#000">{name}</text>
      </g>
    ))}
  </svg>
);

export default function App() {
  return (
    <div style={{ position: 'absolute', left: 0, top: 0, width: 3150, height: 2700, background: '#fff', fontFamily: FONT }}>
      <div style={{ position: 'absolute', left: 161, top: 16, fontSize: 55.5, lineHeight: '55px', color: '#000', whiteSpace: 'nowrap' }}>
        Palindromos df_refseq_complete_216_Tetranuc_FrecObs_sel64
      </div>
      <ScatterChart width={3150} height={2700} margin={{ top: 163, right: 344, bottom: 0, left: 0 }}>
        <CartesianGrid fill="#EBEBEB" stroke="#FFFFFF" strokeWidth={2.2} horizontalValues={Y_MINOR} verticalValues={X_MINOR} />
        <CartesianGrid stroke="#FFFFFF" strokeWidth={4.3} horizontalValues={Y_TICKS} verticalValues={X_TICKS} />
        <XAxis
          type="number"
          dataKey="x"
          domain={X_DOMAIN}
          ticks={X_TICKS}
          allowDataOverflow
          height={133}
          axisLine={false}
          tickSize={11}
          tickMargin={11}
          tickLine={{ stroke: '#333333', strokeWidth: 4 }}
          tick={{ fontSize: 36.7, fill: '#4D4D4D', fontFamily: FONT }}
          tickFormatter={(v: number) => String(v)}
        >
          <Label content={XTitle} />
        </XAxis>
        <YAxis
          type="number"
          dataKey="y"
          domain={Y_DOMAIN}
          ticks={Y_TICKS}
          allowDataOverflow
          width={161}
          axisLine={false}
          tickSize={11}
          tickMargin={9}
          tickLine={{ stroke: '#333333', strokeWidth: 4 }}
          tick={{ fontSize: 36.7, fill: '#4D4D4D', fontFamily: FONT }}
          tickFormatter={(v: number) => v.toFixed(1)}
        >
          <Label content={YTitle} />
        </YAxis>
        <Scatter data={grayData} shape={GrayDot} isAnimationActive={false} />
        {SERIES.map((rows, i) => (
          <Scatter key={PALINDROMES[i]} name={PALINDROMES[i]} data={toPoints(rows)} shape={colorDot(COLORS[i])} isAnimationActive={false} />
        ))}
      </ScatterChart>
      <Legend />
    </div>
  );
}
